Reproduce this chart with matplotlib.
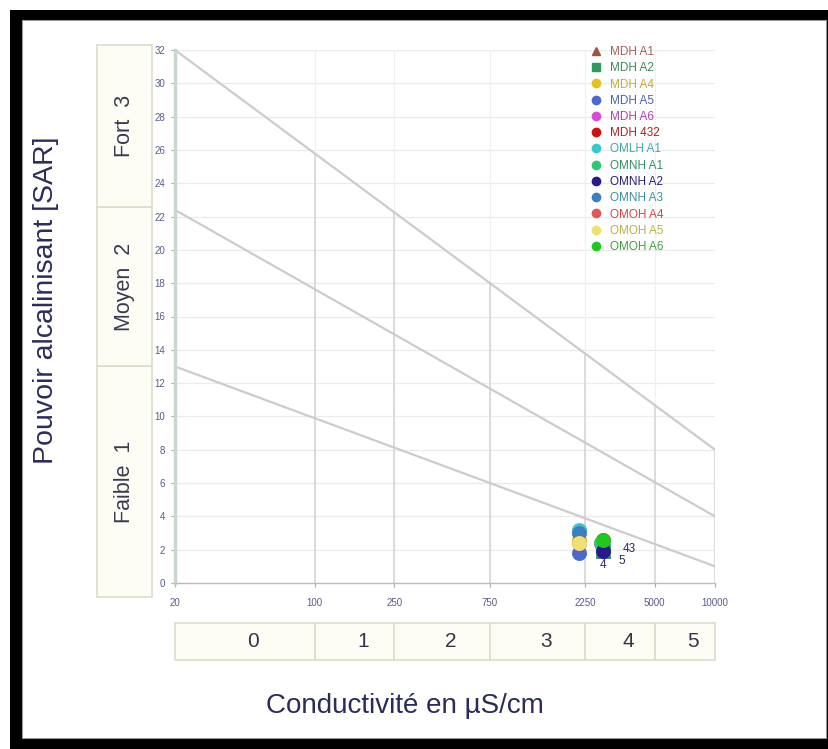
import matplotlib.pyplot as plt
from matplotlib.patches import Rectangle
from matplotlib.lines import Line2D
import numpy as np

plt.rcParams['font.family'] = ['Liberation Sans', 'DejaVu Sans']

# samples
names = ['MDH A1', 'MDH A2', 'MDH A4', 'MDH A5', 'MDH A6', 'MDH 432', 'OMLH A1',
         'OMNH A1', 'OMNH A2', 'OMNH A3', 'OMOH A4', 'OMOH A5', 'OMOH A6']
markers = ['^', 's', 'o', 'o', 'o', 'o', 'o', 'o', 'o', 'o', 'o', 'o', 'o']
colors = ['#a0524a', '#2e9a5e', '#e8c21a', '#4a68d0', '#d84ad8', '#d01010', '#38c8d0',
          '#30c870', '#2a1890', '#3a80c0', '#e05858', '#f0e070', '#20c820']
text_colors = ['#a0625a', '#3a8a5a', '#c8a830', '#4a60b0', '#b040b0', '#b02020', '#40a8b0',
               '#309060', '#2a2070', '#3a90a0', '#d04848', '#b8b040', '#40a040']
conductivity = [2750, 2750, 2100, 2100, 2700, 2750, 2100, 2700, 2750, 2100, 2100, 2100, 2750]
sar = [1.9, 1.9, 2.6, 1.8, 2.4, 2.6, 3.2, 2.4, 1.9, 3.0, 2.4, 2.4, 2.6]

# point labels seen near the cluster
label_text = ['4', '5', '43']
label_x = [2650, 3300, 3450]
label_y = [1.1, 1.3, 2.05]

# classification lines (endpoints at 20 and 10000 uS/cm)
line_left = [32, 22.4, 13]
line_right = [8, 4, 1]

x_ticks = [20, 100, 250, 750, 2250, 5000, 10000]
y_ticks = list(range(0, 33, 2))
sodium_classes = ['Faible  1', 'Moyen  2', 'Fort  3']
sodium_bounds = [-0.85, 13, 22.6, 32.3]
salinity_classes = ['0', '1', '2', '3', '4', '5']

W, H = 829, 749
fig = plt.figure(figsize=(W / 100, H / 100), dpi=100)
fig.patch.set_facecolor('white')

# black frame around the picture
fig.patches.append(Rectangle((10 / W, 0), 1 - 10 / W, 1 - 10 / H, transform=fig.transFigure,
                             facecolor='black', edgecolor='none', zorder=-10))
fig.patches.append(Rectangle((22 / W, 11 / H), (826 - 22) / W, (729 - 11) / H,
                             transform=fig.transFigure, facecolor='white',
                             edgecolor='#999999', lw=0.8, zorder=-9))

ax = fig.add_axes([175 / W, 1 - 583 / H, (715 - 175) / W, (583 - 50) / H])
ax.set_xscale('log')
ax.set_xlim(20, 10000)
ax.set_ylim(0, 32)
ax.patch.set_alpha(0)

# light grid
for y in y_ticks:
    ax.axhline(y, color='#ebebeb', lw=0.9, zorder=0)
lx = np.log10(20)
rx = np.log10(10000)
for xv in x_ticks[1:]:
    ax.axvline(xv, color='#f0f0f0', lw=0.9, zorder=0)
    # darker segment under the top line
    t = (np.log10(xv) - lx) / (rx - lx)
    top = line_left[0] + (line_right[0] - line_left[0]) * t
    ax.plot([xv, xv], [0, top], color='#d6d6d6', lw=1.2, zorder=1)

for a, b in zip(line_left, line_right):
    ax.plot([20, 10000], [a, b], color='#cccccc', lw=1.6, zorder=2)

for i in range(len(names)):
    ax.scatter(conductivity[i], sar[i], marker=markers[i], s=105, color=colors[i],
               edgecolor=colors[i], linewidth=0.5, zorder=5)

for t, xv, yv in zip(label_text, label_x, label_y):
    ax.text(xv, yv, t, fontsize=8.5, color='#2a2a6a', ha='left', va='center', zorder=6)

ax.set_xticks(x_ticks)
ax.set_xticklabels([str(v) for v in x_ticks])
ax.xaxis.set_minor_locator(plt.NullLocator())
ax.set_yticks(y_ticks)
ax.tick_params(axis='both', labelsize=7, labelcolor='#5a5a8a', color='#aaaaaa', length=3)
ax.tick_params(axis='x', pad=8)
ax.tick_params(axis='y', pad=4)

for s in ['top', 'right']:
    ax.spines[s].set_visible(False)
ax.spines['left'].set_color('#c8d8cc')
ax.spines['left'].set_linewidth(2.5)
ax.spines['bottom'].set_color('#bbbbbb')
ax.spines['bottom'].set_linewidth(1)

handles = [Line2D([], [], marker=m, color=c, linestyle='none', markersize=6)
           for m, c in zip(markers, colors)]
ax.legend(handles, names, loc='upper left', bbox_to_anchor=(590 / W, 1 - 46 / H),
          bbox_transform=fig.transFigure, frameon=False, fontsize=8.5, labelcolor=text_colors,
          borderaxespad=0, borderpad=0, handlelength=1.0, handletextpad=0.7, labelspacing=0.36)

# sodium class boxes on the left
axl = fig.add_axes([97 / W, 1 - 583 / H, (152 - 97) / W, (583 - 50) / H])
axl.set_xlim(0, 1)
axl.set_ylim(0, 32)
axl.axis('off')
for k, lab in enumerate(sodium_classes):
    y0, y1 = sodium_bounds[k], sodium_bounds[k + 1]
    axl.add_patch(Rectangle((0, y0), 1, y1 - y0, facecolor='#fdfdf6', edgecolor='#ddddcc',
                            lw=1.2, clip_on=False))
    axl.text(0.5, (y0 + y1) / 2, lab, rotation=90, ha='center', va='center',
             fontsize=15.5, color='#3a3a50')

# salinity class boxes below
axb = fig.add_axes([175 / W, 1 - 660 / H, (715 - 175) / W, (660 - 623) / H])
axb.set_xscale('log')
axb.set_xlim(20, 10000)
axb.set_ylim(0, 1)
axb.axis('off')
for k, lab in enumerate(salinity_classes):
    x0, x1 = x_ticks[k], x_ticks[k + 1]
    axb.add_patch(Rectangle((x0, 0), x1 - x0, 1, facecolor='#fdfdf6', edgecolor='#ddddcc',
                            lw=1.2, clip_on=False))
    axb.text(np.sqrt(x0 * x1) * 1.1, 0.5, lab, ha='center', va='center',
             fontsize=15, color='#34344a')

fig.text(46 / W, 1 - 300 / H, 'Pouvoir alcalinisant [SAR]', rotation=90, ha='center',
         va='center', fontsize=20.5, color='#2c2c5c')
fig.text(405 / W, 1 - 706 / H, 'Conductivité en µS/cm', ha='center', va='center',
         fontsize=20, color='#2c2c5c')

plt.savefig('out.png', dpi=100)
